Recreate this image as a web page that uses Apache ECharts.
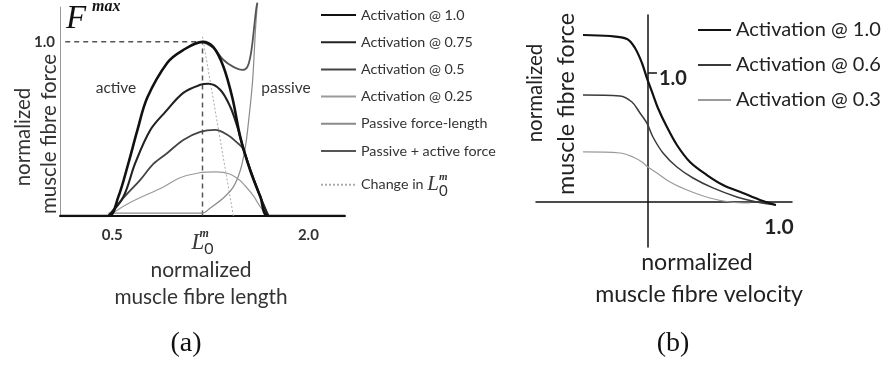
<!DOCTYPE html>
<html>
<head>
<meta charset="utf-8">
<script src="https://cdn.jsdelivr.net/npm/echarts@6.0.0/dist/echarts.min.js"></script>
<style>
  html, body { margin: 0; padding: 0; background: #fff; }
  #chart { width: 888px; height: 365px; }
</style>
</head>
<body>
<div id="chart"></div>
<script>
// ---------- (a) force–length: x = normalized fibre length, y = normalized force ----------
const optimalLength = 1.19;               // L0m, peak of the fully activated curve
const lengthTicks = [0.5, optimalLength, 2.0];
const forceTicks = [1.0];

const act100 = [[0.10, 0], [0.469, 0], [0.546, 0.11], [0.622, 0.30], [0.691, 0.49], [0.768, 0.68],
  [0.921, 0.88], [1.036, 0.95], [1.19, 1.0], [1.273, 0.97], [1.349, 0.86], [1.418, 0.68],
  [1.480, 0.45], [1.556, 0.26], [1.633, 0.11], [1.694, 0], [2.28, 0]];
const act75 = [[0.469, 0], [0.584, 0.109], [0.676, 0.305], [0.791, 0.494], [0.906, 0.598],
  [1.043, 0.707], [1.173, 0.753], [1.235, 0.759], [1.327, 0.724], [1.403, 0.626],
  [1.457, 0.511], [1.495, 0.408], [1.556, 0.264], [1.633, 0.109], [1.694, 0]];
const act50 = [[0.469, 0], [0.599, 0.115], [0.714, 0.207], [0.814, 0.299], [0.921, 0.362],
  [1.043, 0.437], [1.173, 0.483], [1.288, 0.494], [1.380, 0.466], [1.457, 0.420],
  [1.495, 0.391], [1.556, 0.264], [1.633, 0.109], [1.694, 0]];
const act25 = [[0.469, 0], [0.630, 0.075], [0.891, 0.167], [1.013, 0.218], [1.158, 0.247],
  [1.296, 0.253], [1.396, 0.241], [1.472, 0.207], [1.511, 0.178], [1.580, 0.115],
  [1.633, 0.052], [1.694, 0]];
const passive = [[0.469, 0.017], [1.19, 0.017], [1.250, 0.046], [1.349, 0.103], [1.426, 0.167],
  [1.480, 0.264], [1.518, 0.397], [1.541, 0.534], [1.572, 0.764], [1.587, 0.954],
  [1.595, 1.069], [1.610, 1.224]];
const passiveActive = [[1.19, 1.0], [1.273, 0.966], [1.349, 0.897], [1.426, 0.856],
  [1.495, 0.839], [1.533, 0.856], [1.556, 0.914], [1.572, 0.994], [1.587, 1.098],
  [1.602, 1.195], [1.610, 1.224]];
const optimalShift = [[1.19, 1.03], [1.426, 0]];

// ---------- (b) force–velocity: x = normalized fibre velocity, y = normalized force ----------
const velocityTicks = [1.0];
const velForceTicks = [1.0];

const vel100 = [[-0.496, 1.295], [-0.290, 1.287], [-0.160, 1.264], [-0.099, 1.194], [-0.046, 1.078],
  [-0.008, 0.961], [0.031, 0.853], [0.076, 0.729], [0.145, 0.581], [0.221, 0.442],
  [0.321, 0.310], [0.450, 0.209], [0.573, 0.132], [0.725, 0.070], [0.855, 0.016], [0.977, -0.023]];
const vel60 = [[-0.496, 0.829], [-0.214, 0.822], [-0.122, 0.775], [-0.061, 0.690], [-0.008, 0.612],
  [0.038, 0.504], [0.115, 0.380], [0.221, 0.271], [0.344, 0.186], [0.496, 0.109],
  [0.679, 0.039], [0.832, 0], [0.977, -0.023]];
const vel30 = [[-0.496, 0.388], [-0.214, 0.380], [-0.115, 0.349], [-0.046, 0.310], [0, 0.271],
  [0.069, 0.225], [0.168, 0.155], [0.298, 0.093], [0.473, 0.031], [0.626, 0], [0.779, -0.008]];

const SANS = 'Lato, "Open Sans", sans-serif';
const SERIF = '"Liberation Serif", "DejaVu Serif", serif';
const TEXT = '#333';

const legendA = ['Activation @ 1.0', 'Activation @ 0.75', 'Activation @ 0.5', 'Activation @ 0.25',
  'Passive force-length', 'Passive + active force', 'Change in L0m'];
const legendB = ['Activation @ 1.0', 'Activation @ 0.6', 'Activation @ 0.3'];

function line(name, data, color, width, extra) {
  return Object.assign({
    type: 'line', name, data, symbol: 'none', smooth: 0.35,
    lineStyle: { color, width }, itemStyle: { color }, z: 3, animation: false
  }, extra || {});
}

function label(x, y, text, size, opts) {
  return {
    type: 'text', x, y, rotation: (opts && opts.rotation) || 0,
    style: Object.assign({
      text, fontFamily: SANS, fontSize: size, fill: TEXT,
      align: 'center', verticalAlign: 'middle', textAlign: 'center', textVerticalAlign: 'middle'
    }, (opts && opts.style) || {})
  };
}

// L with superscript m stacked over subscript 0
const L0mRich = size => ({
  L: { fontFamily: SERIF, fontStyle: 'italic', fontWeight: 'normal', fontSize: size, color: '#3a3a3a', verticalAlign: 'bottom', lineHeight: size + 6, padding: [0, 0, 3, 0] },
  m: { fontFamily: SERIF, fontStyle: 'italic', fontWeight: 'bold', fontSize: Math.round(size * 0.52), color: TEXT, width: 0, verticalAlign: 'top' },
  z: { fontFamily: SANS, fontWeight: 'normal', fontSize: Math.round(size * 0.7), color: TEXT, verticalAlign: 'bottom' }
});

const chart = echarts.init(document.getElementById('chart'));

chart.setOption({
  animation: false,
  grid: [
    { left: 60, top: 7, width: 285, height: 209 },
    { left: 536, top: 15, width: 256, height: 232 }
  ],
  xAxis: [
    {
      type: 'value', gridIndex: 0, min: 0.1, max: 2.28,
      axisLine: { lineStyle: { color: '#111', width: 2 } },
      axisTick: { show: false }, splitLine: { show: false },
      axisLabel: {
        customValues: lengthTicks, margin: 12, color: TEXT,
        fontFamily: SANS, fontWeight: 'bold', fontSize: 15,
        formatter: v => Math.abs(v - optimalLength) < 1e-6 ? '{L|L}{m|m}{z|0}' : v.toFixed(1),
        rich: L0mRich(23)
      }
    },
    {
      type: 'value', gridIndex: 1, min: -0.855, max: 1.10,
      axisLine: { onZero: true, lineStyle: { color: '#111', width: 1.5 } },
      axisTick: { show: false }, splitLine: { show: false },
      axisLabel: { customValues: velocityTicks, margin: -30, color: '#222', fontFamily: SANS, fontWeight: 'bold', fontSize: 21, formatter: v => v.toFixed(1) }
    }
  ],
  yAxis: [
    {
      type: 'value', gridIndex: 0, min: 0, max: 1.2,
      axisLine: { show: true, lineStyle: { color: '#999', width: 1 } },
      axisTick: { show: false }, splitLine: { show: false },
      axisLabel: { customValues: forceTicks, margin: 5, color: TEXT, fontFamily: SANS, fontWeight: 'bold', fontSize: 15, formatter: v => v.toFixed(1) }
    },
    {
      type: 'value', gridIndex: 1, min: -0.349, max: 1.45,
      axisLine: { show: true, onZero: true, lineStyle: { color: '#111', width: 1.5 } },
      axisTick: { show: true, inside: true, length: 9, customValues: velForceTicks, lineStyle: { color: '#111', width: 1.5 } },
      splitLine: { show: false },
      axisLabel: { inside: true, customValues: velForceTicks, margin: 123, verticalAlign: 'top', lineHeight: 12, color: '#222', fontFamily: SANS, fontWeight: 'bold', fontSize: 20, formatter: v => v.toFixed(1) }
    }
  ],
  legend: [
    {
      data: legendA, orient: 'vertical', left: 315, top: 3,
      itemWidth: 35, itemHeight: 14, itemGap: 13.2, selectedMode: false,
      itemStyle: { opacity: 0, borderWidth: 0 },
      textStyle: { color: TEXT, fontFamily: SANS, fontSize: 14.3, rich: L0mRich(21) },
      formatter: name => name === 'Change in L0m' ? 'Change in {L|L}{m|m}{z|0}' : name
    },
    {
      data: legendB, orient: 'vertical', left: 692, top: 15,
      itemWidth: 33, itemHeight: 20, itemGap: 15, selectedMode: false,
      itemStyle: { opacity: 0, borderWidth: 0 },
      textStyle: { color: '#222', fontFamily: SANS, fontSize: 20 }
    }
  ],
  series: [
    // optimal-length guides: horizontal to the force axis, vertical to the length axis
    {
      type: 'line', name: 'guide', xAxisIndex: 0, yAxisIndex: 0, symbol: 'none', silent: true,
      data: [[0.14, act100[8][1]], [optimalLength, act100[8][1]], [optimalLength, 0]],
      lineStyle: { color: '#555', width: 1.5, type: [5, 4] }, z: 2
    },
    line('Change in L0m', optimalShift, '#aaa', 1, { smooth: false, lineStyle: { color: '#aaa', width: 1, type: [2, 2] }, z: 2 }),
    line('Passive force-length', passive, '#8a8a8a', 1.2, { clip: false }),
    line('Activation @ 0.25', act25, '#9a9a9a', 1.2),
    line('Passive + active force', passiveActive, '#555', 1.8, { clip: false }),
    line('Activation @ 0.5', act50, '#444', 1.8),
    line('Activation @ 0.75', act75, '#222', 2.1),
    line('Activation @ 1.0', act100, '#111', 2.6, { z: 4 }),

    line('Activation @ 0.3', vel30, '#9a9a9a', 1.2, { xAxisIndex: 1, yAxisIndex: 1 }),
    line('Activation @ 0.6', vel60, '#3a3a3a', 1.5, { xAxisIndex: 1, yAxisIndex: 1 }),
    line('Activation @ 1.0', vel100, '#111', 2.2, { xAxisIndex: 1, yAxisIndex: 1 })
  ],
  graphic: [
    label(66, 19, 'F', 33, { style: { fontFamily: SERIF, fontStyle: 'italic', fill: '#111', align: 'left', textAlign: 'left' } }),
    label(92, 7, 'max', 16, { style: { fontFamily: SERIF, fontStyle: 'italic', fontWeight: 'bold', fill: '#111', align: 'left', textAlign: 'left' } }),
    label(116, 88, 'active', 15.5),
    label(286, 88, 'passive', 15.5),

    label(23, 137, 'normalized', 20.5, { rotation: Math.PI / 2 }),
    label(49, 134, 'muscle fibre force', 20.5, { rotation: Math.PI / 2 }),
    label(201, 270, 'normalized', 21),
    label(201, 297, 'muscle fibre length', 20.8),
    label(186, 344, '(a)', 28, { style: { fontFamily: SERIF, fill: '#111' } }),

    label(535, 93, 'normalized', 20.5, { rotation: Math.PI / 2, style: { fill: '#222' } }),
    label(566, 104, 'muscle fibre force', 23.3, { rotation: Math.PI / 2, style: { fill: '#222' } }),
    label(697, 263, 'normalized', 23.2, { style: { fill: '#222' } }),
    label(699, 295, 'muscle fibre velocity', 23.1, { style: { fill: '#222' } }),
    label(673, 344, '(b)', 28, { style: { fontFamily: SERIF, fill: '#111' } })
  ]
});
</script>
</body>
</html>
